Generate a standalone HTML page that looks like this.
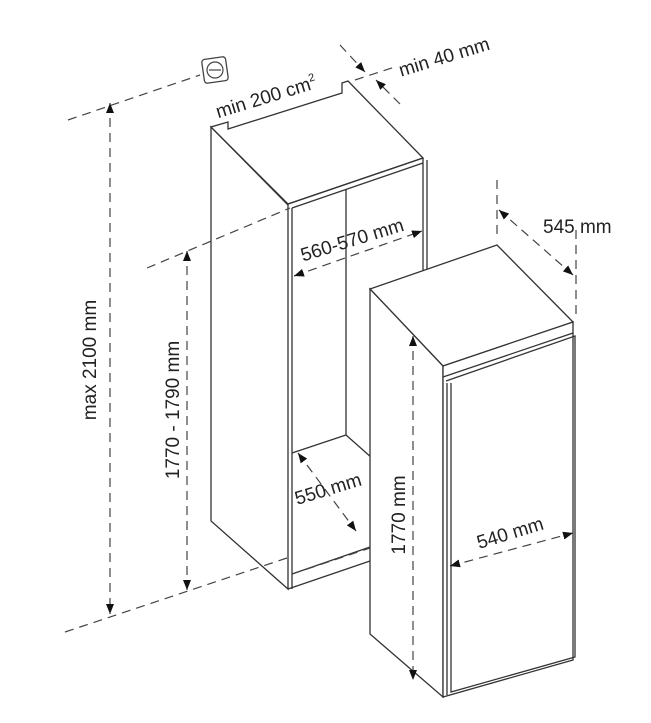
<!DOCTYPE html>
<html><head><style>
html,body{margin:0;padding:0;background:#fff;}
svg{display:block}
text{font-family:"Liberation Sans",sans-serif;fill:#222;font-size:19px}
</style></head><body>
<svg width="651" height="723" viewBox="0 0 651 723" xmlns="http://www.w3.org/2000/svg">
<defs>
<marker id="a" viewBox="0 0 10 10" refX="10" refY="5" markerWidth="10" markerHeight="10" orient="auto-start-reverse" markerUnits="userSpaceOnUse"><path d="M0,1 L10,5 L0,9 Z" fill="#111"/></marker>
</defs>
<g fill="none" stroke="#333" stroke-width="1.3">
<path d="M211,127 L211,521 L288,589 L288,205 Z" fill="#fff"/>
<path d="M211,127 L288,204 L423,158 L348,81 L342,83 L342,93 L228,129 L228,122 Z" fill="#fff"/>
<path d="M288,204 L423,158 M292,208 L423,163"/>
<line x1="292" y1="208" x2="292" y2="589"/>
<line x1="423" y1="158" x2="423" y2="275"/>
<line x1="427" y1="160" x2="427" y2="275"/>
<line x1="346" y1="190" x2="346" y2="435"/>
<path d="M292,453 L346,435 L372,458"/>
<path d="M288,589 L370,561 M292,574 L370,547"/>
<path d="M370,289 L497,245 L573,322 L443,366 Z" fill="#fff"/>
<path d="M370,289 L443,366 L443,697 L370,634 Z" fill="#fff"/>
<path d="M443,366 L573,322 L573,660 L443,697 Z" fill="#fff"/>
<path d="M446,381 L575,336 L575,657 L451,692 L451,383"/>
<line x1="447" y1="383" x2="447" y2="695"/>
<path d="M443,377 L573,333"/>
</g>
<rect x="203" y="58" width="24" height="24" rx="3" fill="#fff" stroke="#444" stroke-width="1.3" transform="rotate(-8 215 70)"/>
<circle cx="215" cy="70" r="8" fill="none" stroke="#444" stroke-width="1.2"/>
<line x1="209" y1="70" x2="221" y2="70" stroke="#444" stroke-width="1.2"/>
<g stroke="#444" stroke-width="1.2" stroke-dasharray="9,6" fill="none">
<line x1="68" y1="120" x2="200" y2="75"/>
<line x1="65" y1="632" x2="290" y2="557"/>
<line x1="147" y1="268" x2="290" y2="208"/>
<line x1="292" y1="574" x2="370" y2="548"/>
<line x1="110" y1="103" x2="110" y2="614" marker-start="url(#a)" marker-end="url(#a)"/>
<line x1="187" y1="251" x2="187" y2="590" marker-start="url(#a)" marker-end="url(#a)"/>
<line x1="294" y1="276" x2="422" y2="231" marker-start="url(#a)" marker-end="url(#a)"/>
<line x1="298" y1="453" x2="356" y2="531" marker-start="url(#a)" marker-end="url(#a)"/>
<line x1="413" y1="336" x2="413" y2="680" marker-start="url(#a)" marker-end="url(#a)"/>
<line x1="450" y1="566" x2="573" y2="533" marker-start="url(#a)" marker-end="url(#a)"/>
<line x1="499" y1="210" x2="573" y2="275" marker-start="url(#a)" marker-end="url(#a)"/>
<line x1="497" y1="180" x2="497" y2="240"/>
<line x1="576" y1="230" x2="576" y2="320"/>
<line x1="340" y1="45" x2="365" y2="72" marker-end="url(#a)"/>
<line x1="400" y1="104" x2="376" y2="80" marker-end="url(#a)"/>
<line x1="355" y1="80" x2="395" y2="67"/>
</g>
<text transform="translate(96,360) rotate(-90)" text-anchor="middle">max 2100 mm</text>
<text transform="translate(179,410) rotate(-90)" text-anchor="middle">1770 - 1790 mm</text>
<text transform="translate(405,515) rotate(-90)" text-anchor="middle">1770 mm</text>
<text transform="translate(354,246) rotate(-17)" text-anchor="middle">560-570 mm</text>
<text transform="translate(330,495) rotate(-17)" text-anchor="middle">550 mm</text>
<text transform="translate(512,539) rotate(-17)" text-anchor="middle">540 mm</text>
<text transform="translate(268,103) rotate(-17)" text-anchor="middle">min 200 cm<tspan font-size="11" dy="-8">2</tspan></text>
<text transform="translate(446,63) rotate(-17)" text-anchor="middle">min 40 mm</text>
<text x="543" y="233">545 mm</text>
</svg>
</body></html>
